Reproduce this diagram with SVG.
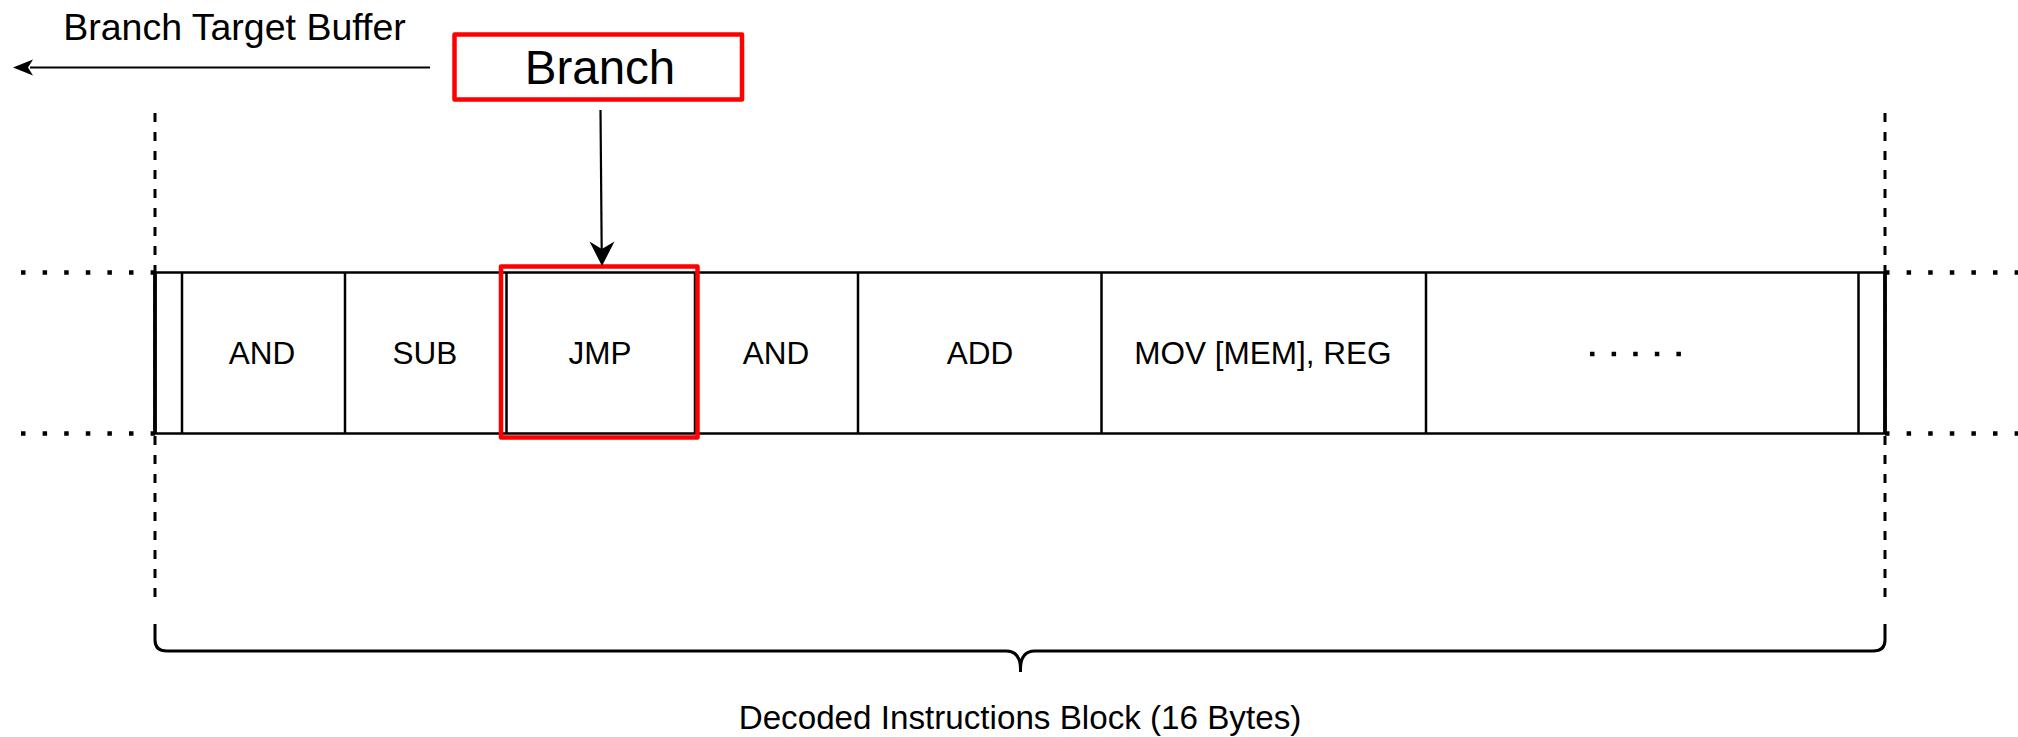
<svg xmlns="http://www.w3.org/2000/svg" width="2018" height="737" viewBox="0 0 2018 737">
  <style>
    text { font-family: "Liberation Sans", Arial, sans-serif; fill: #000; }
    .lbl { font-size: 31.5px; text-anchor: middle; }
    .cell { fill: #fff; stroke: #000; stroke-width: 2.5; }
    .div { stroke: #000; stroke-width: 2.5; fill: none; }
    .dash { stroke: #000; stroke-width: 3; stroke-dasharray: 9 10; fill: none; }
    .dots { stroke: #000; stroke-width: 4.5; stroke-dasharray: 4.5 17.1; fill: none; }
    .red { fill: none; stroke: #ff0000; stroke-width: 4.5; stroke-linejoin: round; }
    .edge { stroke: #000; stroke-width: 2.2; fill: none; }
  </style>

  <rect x="0" y="0" width="2018" height="737" fill="#fff"/>

  <!-- guide lines (dashed bounds and dotted continuations) -->
  <g id="guides">
    <line class="dash" x1="155" y1="113" x2="155" y2="600"/>
    <line class="dash" x1="1885" y1="113" x2="1885" y2="600"/>
    <line class="dots" x1="21" y1="272.5" x2="155" y2="272.5"/>
    <line class="dots" x1="21" y1="433.5" x2="155" y2="433.5"/>
    <line class="dots" x1="1885" y1="272.5" x2="2018" y2="272.5"/>
    <line class="dots" x1="1885" y1="433.5" x2="2018" y2="433.5"/>
  </g>

  <!-- instruction row -->
  <g id="row">
    <rect class="cell" x="155" y="272.5" width="1730" height="161"/>
    <line class="div" x1="155" y1="272.5" x2="155" y2="433.5" style="stroke-width:3.8"/>
    <line class="div" x1="1885" y1="272.5" x2="1885" y2="433.5" style="stroke-width:3.8"/>
    <line class="div" x1="182" y1="272.5" x2="182" y2="433.5"/>
    <line class="div" x1="1858.5" y1="272.5" x2="1858.5" y2="433.5"/>
  </g>
  <g id="cell-and1">
    <line class="div" x1="345" y1="272.5" x2="345" y2="433.5"/>
    <text class="lbl" x="262" y="363.5">AND</text>
  </g>
  <g id="cell-sub">
    <line class="div" x1="506.5" y1="272.5" x2="506.5" y2="433.5"/>
    <text class="lbl" x="425" y="363.5">SUB</text>
  </g>
  <g id="cell-jmp">
    <line class="div" x1="695" y1="272.5" x2="695" y2="433.5"/>
    <text class="lbl" x="600" y="363.5">JMP</text>
  </g>
  <g id="cell-and2">
    <line class="div" x1="858" y1="272.5" x2="858" y2="433.5"/>
    <text class="lbl" x="776" y="363.5">AND</text>
  </g>
  <g id="cell-add">
    <line class="div" x1="1101.5" y1="272.5" x2="1101.5" y2="433.5"/>
    <text class="lbl" x="980" y="363.5">ADD</text>
  </g>
  <g id="cell-mov">
    <line class="div" x1="1426" y1="272.5" x2="1426" y2="433.5"/>
    <text class="lbl" x="1263" y="363.5">MOV [MEM], REG</text>
  </g>
  <g id="cell-more">
    <line class="dots" x1="1590" y1="354" x2="1681" y2="354"/>
  </g>

  <!-- JMP highlight -->
  <g id="jmp-highlight">
    <rect class="red" x="501" y="266.5" width="196.5" height="171"/>
  </g>

  <!-- Branch node -->
  <g id="branch">
    <rect class="red" x="454.5" y="34.5" width="287.5" height="65"/>
    <text x="600" y="83.5" font-size="47.5" text-anchor="middle">Branch</text>
  </g>

  <!-- Branch Target Buffer label -->
  <g id="btb-label">
    <text x="234.5" y="40" font-size="37.5" text-anchor="middle">Branch Target Buffer</text>
  </g>

  <!-- Brace -->
  <g id="brace">
    <path class="div" style="stroke-width:3" d="M155,624 L155,640 Q155,651 167,651 L1006,651 Q1020.5,651 1020.5,669 Q1020.5,651 1035,651 L1873,651 Q1885,651 1885,640 L1885,624"/>
    <line class="div" style="stroke-width:3" x1="1020.5" y1="660" x2="1020.5" y2="672"/>
  </g>

  <!-- Block label -->
  <g id="block-label">
    <text x="1020" y="729" font-size="33.2" text-anchor="middle">Decoded Instructions Block (16 Bytes)</text>
  </g>

  <!-- connectors -->
  <g id="connectors">
    <line class="edge" x1="430" y1="67.5" x2="30" y2="67.5"/>
    <path d="M13,67.5 L33,59.5 L28,67.5 L33,75.5 Z" fill="#000"/>
    <line class="edge" x1="600.5" y1="110" x2="601.7" y2="250"/>
    <path d="M602,266 L589.5,241.5 L601.8,249 L614.5,241.5 Z" fill="#000"/>
  </g>
</svg>
